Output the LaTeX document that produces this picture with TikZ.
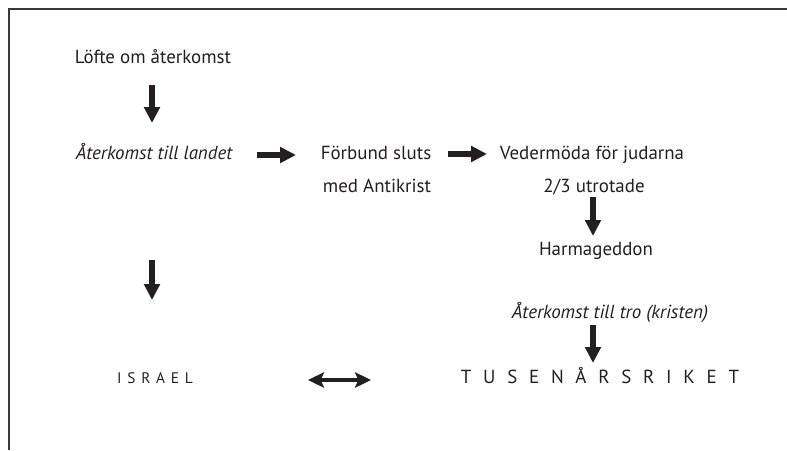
\documentclass[tikz,border=0pt]{standalone}
\usepackage{fontspec}
\setmainfont{PT Sans}
\newfontfamily\spacedbig[LetterSpace=62]{PT Sans}
\newfontfamily\spacedsmall[LetterSpace=38]{PT Sans}
\usetikzlibrary{arrows.meta,calc}
\definecolor{ink}{HTML}{231F20}
\definecolor{framecol}{HTML}{3A3A3A}
\begin{document}
\begin{tikzpicture}[x=0.75pt,y=-0.75pt,
  txt/.style={inner sep=0pt, anchor=base, text=ink, font=\fontsize{14.2}{17}\selectfont},
  itxt/.style={txt, font=\fontsize{14.2}{17}\selectfont\itshape},
  bigtxt/.style={txt, font=\fontsize{14.2}{17}\selectfont\spacedbig},
  smalltxt/.style={txt, font=\fontsize{11.5}{14}\selectfont\spacedsmall},
  framestyle/.style={draw=framecol, line width=1.5pt},
  bigarrow/.style={draw=ink, line width=4.9pt, -{Triangle[length=12pt,width=11.5pt]}},
  duoarrow/.style={draw=ink, line width=3.4pt, {Stealth[length=12pt,width=11.5pt,inset=2.5pt]}-{Stealth[length=12pt,width=11.5pt,inset=2.5pt]}}
]
\useasboundingbox (0,0) rectangle (787,450);
\draw[framestyle] (9,450) -- (9,9) -- (787,9);

\node[txt]  (lofte)  at (153,63)  {Löfte om återkomst};
\node[itxt] (ater)   at (154,159) {Återkomst till landet};
\node[txt]  (forb)   at (376,159) {Förbund sluts};
\node[txt]  (med)    at (377,192) {med Antikrist};
\node[txt]  (ved)    at (592,159) {Vedermöda för judarna};
\node[txt]  (utr)    at (594,192) {2/3 utrotade};
\node[txt]  (harm)   at (596,255) {Harmageddon};
\node[itxt] (tro)    at (610,318) {Återkomst till tro (kristen)};
\node[smalltxt] (israel) at (155,383) {ISRAEL};
\node[bigtxt]   (tusen)  at (600,383) {TUSENÅRSRIKET};

\draw[bigarrow] ($(lofte.base)+(-1,22)$) -- ($(ater.base)+(-2,-36)$);
\draw[bigarrow] ($(ater.base)+(103,-4)$) -- ($(forb.base)+(-80,-4)$);
\draw[bigarrow] ($(forb.base)+(72,-5)$) -- ($(ved.base)+(-105,-5)$);
\draw[bigarrow] ($(utr.base)+(-1,5)$) -- ($(harm.base)+(-3,-19)$);
\draw[bigarrow] ($(ater.base)+(-2,101)$) -- ($(israel.base)+(-3,-83)$);
\draw[bigarrow] ($(tro.base)+(-17,7)$) -- ($(tusen.base)+(-7,-20)$);
\draw[duoarrow] ($(israel.base)+(153,-3)$) -- ($(tusen.base)+(-229,-3)$);
\end{tikzpicture}
\end{document}
